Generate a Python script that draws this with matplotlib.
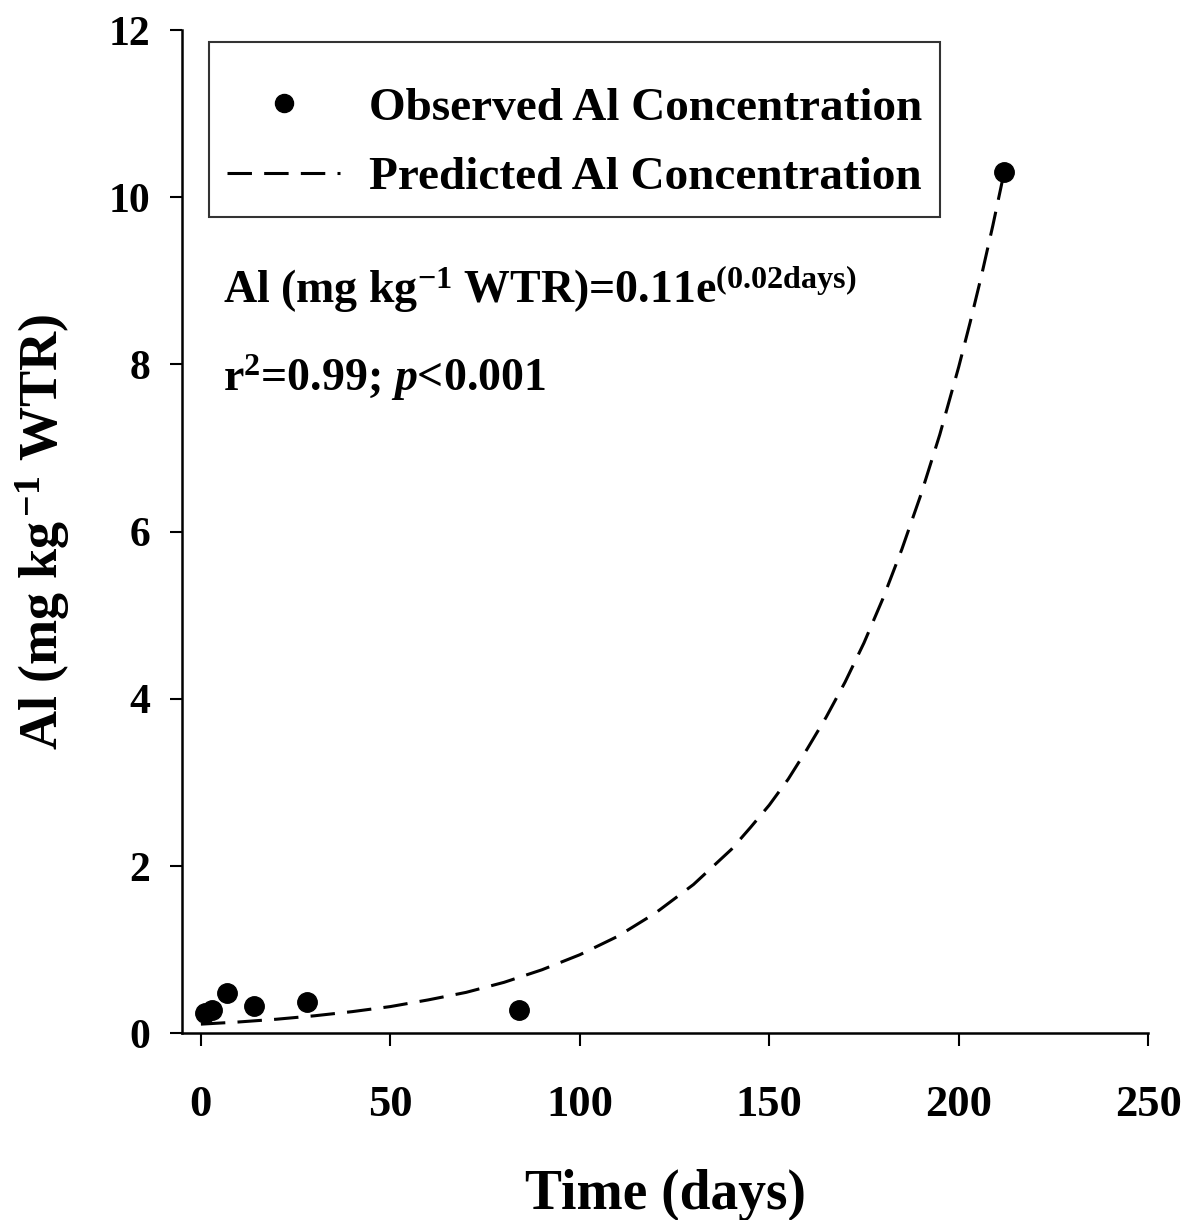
import matplotlib
matplotlib.use("Agg")
import matplotlib.pyplot as plt
from matplotlib.lines import Line2D

plt.rcParams['font.family'] = ['Liberation Serif', 'DejaVu Serif']
plt.rcParams['font.weight'] = 'bold'
plt.rcParams['mathtext.fontset'] = 'custom'
plt.rcParams['mathtext.rm'] = 'Liberation Serif:bold'
plt.rcParams['mathtext.bf'] = 'Liberation Serif:bold'
plt.rcParams['mathtext.it'] = 'Liberation Serif:bold:italic'

obs_days = [1, 3, 7, 14, 28, 84, 212]
obs_al = [0.24, 0.28, 0.48, 0.33, 0.38, 0.28, 10.3]

# Predicted curve
pred_days = [0, 10, 20, 30, 40, 50, 60, 70, 80, 90, 100, 110, 120, 130,
             140, 145, 150, 155, 160, 165, 170, 175, 180, 185, 190, 195,
             200, 203, 206, 209, 212]
pred_al = [0.11, 0.136, 0.169, 0.21, 0.26, 0.32, 0.40, 0.49, 0.61, 0.76,
           0.94, 1.16, 1.44, 1.78, 2.2, 2.46, 2.73, 3.04, 3.4, 3.78, 4.2,
           4.67, 5.2, 5.79, 6.44, 7.16, 7.97, 8.5, 9.06, 9.66, 10.3]

x_ticks = [0, 50, 100, 150, 200, 250]
y_ticks = [0, 2, 4, 6, 8, 10, 12]

fig = plt.figure(figsize=(12.01, 12.20), dpi=100)
ax = fig.add_axes([0.1515, 0.153, 0.956 - 0.1515, 0.9754 - 0.153])

ax.plot(pred_days, pred_al, color='black', lw=2.2, dashes=(8, 4),
        label='Predicted Al Concentration', zorder=2)
ax.plot(obs_days, obs_al, 'o', color='black', ms=14, label='Observed Al Concentration',
        zorder=3, clip_on=False)

ax.set_xlim(-5, 250)
ax.set_ylim(0, 12)
ax.set_xticks(x_ticks)
ax.set_yticks(y_ticks)
ax.spines['top'].set_visible(False)
ax.spines['right'].set_visible(False)
for s in ['left', 'bottom']:
    ax.spines[s].set_linewidth(1.8)
ax.tick_params(axis='both', direction='out', length=9, width=1.5)
ax.tick_params(axis='x', labelsize=32, pad=28)
ax.tick_params(axis='y', labelsize=30, pad=14)
for lbl in ax.get_xticklabels() + ax.get_yticklabels():
    lbl.set_fontweight('bold')

ax.set_xlabel('Time (days)', fontsize=40, fontweight='bold', labelpad=32)
ax.set_ylabel(r'Al (mg kg$^{\,\mathbf{-1}}$ WTR)', fontsize=39, fontweight='bold', labelpad=26)

handles = [Line2D([], [], marker='o', ls='none', color='black', ms=13),
           Line2D([], [], color='black', lw=2.2, dashes=(8, 4))]
leg = ax.legend(handles, ['Observed Al Concentration', 'Predicted Al Concentration'],
                loc='upper left', bbox_to_anchor=(0.028, 0.988), fontsize=34,
                frameon=True, fancybox=False, edgecolor='black', handlelength=2.4,
                handletextpad=0.6, borderpad=0.38, labelspacing=0.55,
                borderaxespad=0.0, title=' ', title_fontsize=1)
leg.get_frame().set_linewidth(1.5)

ax.text(0.042, 0.768, r'Al (mg kg$^{\mathbf{-1}}$ WTR)=0.11e$^{\mathbf{(0.02days)}}$',
        transform=ax.transAxes, fontsize=33, fontweight='bold', va='top')
ax.text(0.042, 0.678, r'r$^{\mathbf{2}}$=0.99; $\mathit{p}$<0.001',
        transform=ax.transAxes, fontsize=33, fontweight='bold', va='top')

fig.savefig('out.png', dpi=100)
